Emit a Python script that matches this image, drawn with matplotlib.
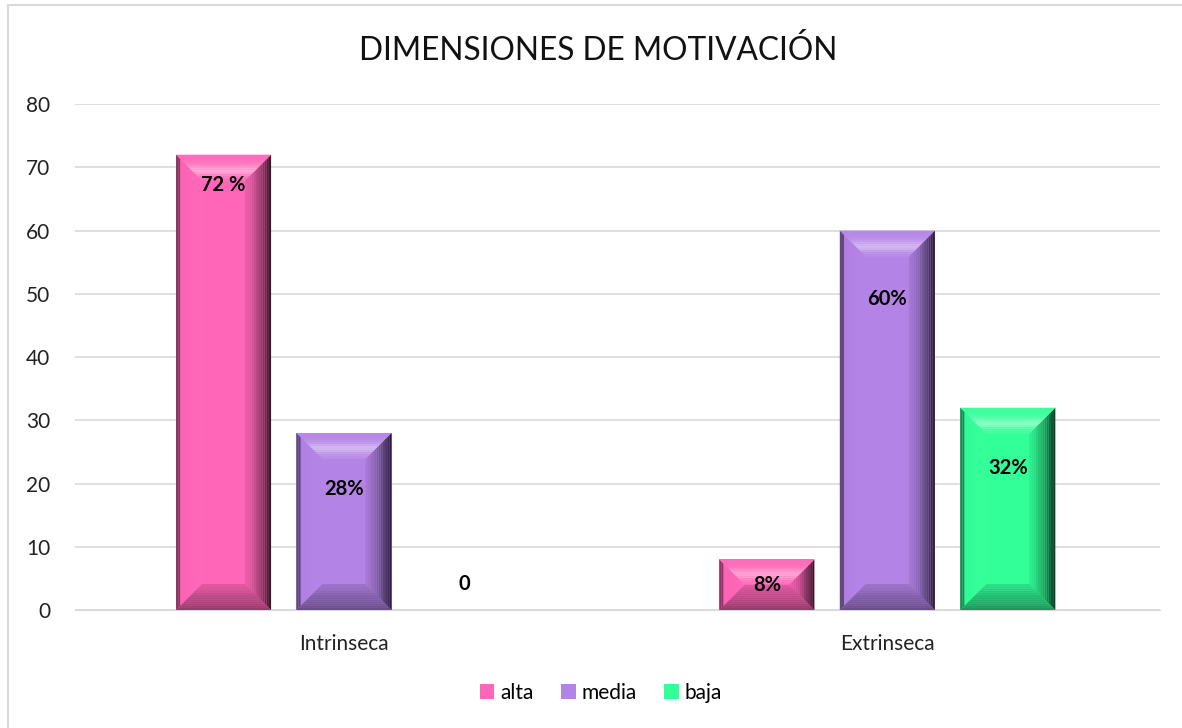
import numpy as np
import matplotlib
matplotlib.use('Agg')
import matplotlib.pyplot as plt
from matplotlib.patches import Polygon
from matplotlib.lines import Line2D
from matplotlib.colors import to_rgb

plt.rcParams['font.family'] = ['Lato', 'DejaVu Sans']

# data
categories = ['Intrinseca', 'Extrinseca']
series = ['alta', 'media', 'baja']
alta = [72, 8]
media = [28, 60]
baja = [0, 32]
labels = [['72 %', '8%'], ['28%', '60%'], ['0', '32%']]
colors = ['#FF66B8', '#B383E6', '#33FF99']

values = [alta, media, baja]


def shade(c, f):
    # f > 0 lighter, f < 0 darker
    r = np.array(to_rgb(c))
    f = max(min(f, 1), -1)
    if f >= 0:
        return tuple(r + (1 - r) * f)
    return tuple(r * (1 + f))


# shading profiles of the bevel, t = 0 at outer edge, 1 at inner edge
def top_prof(t):
    return 0.05 + 0.38 * np.exp(-((t - 0.6) / 0.22) ** 2)


def bottom_prof(t):
    return -0.12 - 0.3 * (1 - t)


def left_prof(t):
    return -0.45 if t < 0.18 else -0.04 + 0.06 * t


def right_prof(t):
    return -0.08 - 0.72 * (1 - t) ** 1.6


fig = plt.figure(figsize=(11.82, 7.28), dpi=100)
ax = fig.add_axes([0.0635, 0.162, 0.9175, 0.695])
ax.set_xlim(-0.495, 1.501)
ax.set_ylim(0, 80)
ax.set_yticks(np.arange(0, 81, 10))
ax.set_xticks(range(len(categories)))
ax.set_xticklabels(categories)
ax.tick_params(length=0, labelsize=15, colors='#222222')
ax.tick_params(axis='y', pad=18)
ax.tick_params(axis='x', pad=17)
for s in ['top', 'right', 'left']:
    ax.spines[s].set_visible(False)
ax.spines['bottom'].set_color('#D9D9D9')
ax.yaxis.grid(True, color='#D9D9D9', lw=1.2)
ax.set_axisbelow(True)

# pixel -> data conversion for the bevel
fig.canvas.draw()
p0 = ax.transData.transform((0, 0))
p1 = ax.transData.transform((1, 1))
ux = 1.0 / (p1[0] - p0[0])
uy = 1.0 / (p1[1] - p0[1])

width = 0.175
step = 0.2217
bevel = 26
nstrip = 12
label_off = [[-4.8, None], [-8.9, -10.8], [None, -9.6]]

for i, s in enumerate(series):
    xs = np.arange(len(categories)) + (i - 1) * step
    bars = ax.bar(xs, values[i], width, color=colors[i], label=s, zorder=2)
    for j, b in enumerate(bars):
        h = b.get_height()
        x0, x1 = b.get_x(), b.get_x() + b.get_width()
        y0, y1 = 0, h
        c = colors[i]
        if h > 0:
            dpx = min(bevel, h / uy / 2, b.get_width() / ux / 2)
            dx, dy = dpx * ux, dpx * uy
            for k in range(nstrip):
                a = k / nstrip
                e = (k + 1) / nstrip
                tm = (a + e) / 2
                # left
                pts = [(x0 + dx * a, y0 + dy * a), (x0 + dx * e, y0 + dy * e),
                       (x0 + dx * e, y1 - dy * e), (x0 + dx * a, y1 - dy * a)]
                ax.add_patch(Polygon(pts, closed=True, color=shade(c, left_prof(tm)), lw=0, zorder=3))
                # right
                pts = [(x1 - dx * a, y0 + dy * a), (x1 - dx * e, y0 + dy * e),
                       (x1 - dx * e, y1 - dy * e), (x1 - dx * a, y1 - dy * a)]
                ax.add_patch(Polygon(pts, closed=True, color=shade(c, right_prof(tm)), lw=0, zorder=3))
                # top
                pts = [(x0 + dx * a, y1 - dy * a), (x1 - dx * a, y1 - dy * a),
                       (x1 - dx * e, y1 - dy * e), (x0 + dx * e, y1 - dy * e)]
                ax.add_patch(Polygon(pts, closed=True, color=shade(c, top_prof(tm)), lw=0, zorder=3))
                # bottom
                pts = [(x0 + dx * a, y0 + dy * a), (x1 - dx * a, y0 + dy * a),
                       (x1 - dx * e, y0 + dy * e), (x0 + dx * e, y0 + dy * e)]
                ax.add_patch(Polygon(pts, closed=True, color=shade(c, bottom_prof(tm)), lw=0, zorder=3))
        off = label_off[i][j]
        ly = h / 2 if off is None else h + off
        if h == 0:
            ly = 4.2
        ax.text(xs[j], ly, labels[i][j], ha='center', va='center', fontsize=14.5,
                fontweight='bold', color='black', zorder=4)

fig.text(598 / 1182, 1 - 50 / 728, 'DIMENSIONES DE MOTIVACIÓN', fontsize=22.8,
         color='#111111', ha='center', va='center')

handles, names = ax.get_legend_handles_labels()
fig.legend(handles, names, loc='center', bbox_to_anchor=(601 / 1182, 1 - 693 / 728), ncol=3,
           frameon=False, fontsize=15, handlelength=0.7, handleheight=0.7, handletextpad=0.3,
           columnspacing=1.3)

# chart border (top and left edges visible)
fig.add_artist(Line2D([8 / 1182, 1], [1 - 5 / 728, 1 - 5 / 728], transform=fig.transFigure,
                      color='#D9D9D9', lw=1.5))
fig.add_artist(Line2D([8 / 1182, 8 / 1182], [0, 1 - 5 / 728], transform=fig.transFigure,
                      color='#D9D9D9', lw=1.5))

plt.savefig('out.png', dpi=100)
